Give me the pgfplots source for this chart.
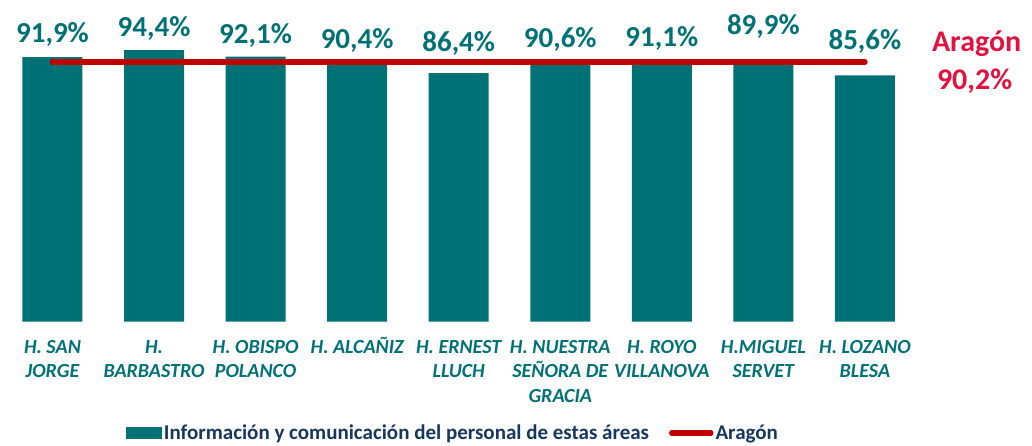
\documentclass[border=0pt]{standalone}
\usepackage{fontspec}
\setmainfont{Carlito}
\usepackage{pgfplots}
\pgfplotsset{compat=1.18}
\definecolor{barteal}{RGB}{0,114,118}
\definecolor{aragonred}{RGB}{192,0,0}
\definecolor{aragontxt}{RGB}{226,18,64}
\definecolor{legtxt}{RGB}{23,55,94}
\newcommand{\st}{\rule{0pt}{18pt}}
\begin{document}
\begin{tikzpicture}
\begin{axis}[
    scale only axis,
    width=914pt, height=316.6pt,
    xmin=-0.5, xmax=8.5,
    ymin=0, ymax=110,
    clip=false,
    axis line style={draw=none},
    tick style={draw=none},
    ytick=\empty,
    xtick={0,...,8},
    xticklabels={\st H. SAN\\JORGE, \st H.\\BARBASTRO, \st H. OBISPO\\POLANCO, \st H. ALCAÑIZ,
        \st H. ERNEST\\LLUCH, \st H. NUESTRA\\SEÑORA DE\\GRACIA, \st H. ROYO\\VILLANOVA,
        \st H.MIGUEL\\SERVET, \st H. LOZANO\\BLESA},
    xticklabel style={align=center, anchor=north, yshift=-10pt,
        font=\fontsize{20}{24.4}\selectfont\bfseries\itshape, text=barteal},
    legend columns=2,
    legend style={at={(axis description cs:0.4937,-0.3515)}, anchor=center,
        draw=none, fill=none, inner sep=0pt,
        font=\fontsize{21}{23}\selectfont\bfseries, text=legtxt,
        /tikz/every even column/.append style={column sep=18pt}},
    legend cell align=left,
]
\addplot[ybar, bar width=60pt, fill=barteal, draw=none,
    legend image code/.code={\path[fill=barteal] (0pt,-6pt) rectangle (36pt,6pt);}]
    coordinates {(0,91.9) (1,94.4) (2,92.1) (3,90.4) (4,86.4) (5,90.6) (6,91.1) (7,89.9) (8,85.6)};
\addlegendentry{Información y comunicación del personal de estas áreas}
\addplot[aragonred, line width=5.5pt, line cap=round, mark=none,
    legend image code/.code={\draw[aragonred, line width=5.5pt, line cap=round] (3pt,0pt) -- (42pt,0pt);}]
    coordinates {(0,90.2) (8,90.2)};
\addlegendentry{Aragón}
% value labels
\addplot[draw=none, mark=none, forget plot, nodes near coords,
    point meta=explicit symbolic,
    nodes near coords style={anchor=center, text=barteal,
        font=\fontsize{29}{32}\selectfont\bfseries}]
    coordinates {(0,99.7)[91,9\%] (1,101.8)[94,4\%] (2,99.5)[92,1\%]
        (3,97.6)[90,4\%] (4,96.6)[86,4\%] (5,98.0)[90,6\%] (6,98.3)[91,1\%]
        (7,102.5)[89,9\%] (8,97.5)[85,6\%]};
\node[text=aragontxt, font=\fontsize{30}{34}\selectfont\bfseries] at (axis cs:9.1,96.5) {Aragón};
\node[text=aragontxt, font=\fontsize{30}{34}\selectfont\bfseries] at (axis cs:9.08,83.6) {90,2\%};
\end{axis}
\pgfresetboundingbox
\path[use as bounding box] (-1.7pt,-123.3pt) rectangle (1030.3pt,321.7pt);
\end{tikzpicture}
\end{document}
